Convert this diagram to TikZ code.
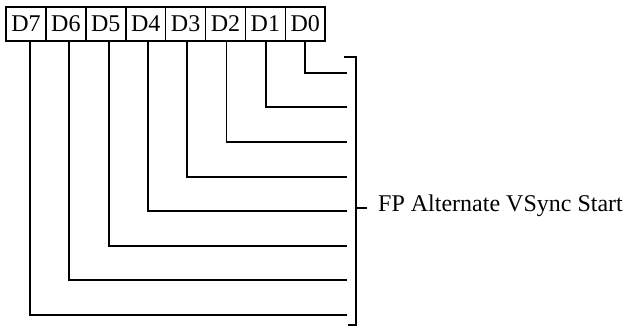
\documentclass[tikz,border=0pt]{standalone}
\usepackage{fontspec}
\setmainfont{Liberation Serif}
\begin{document}
\begin{tikzpicture}[x=1bp,y=-1bp,
  every node/.style={font=\fontsize{24bp}{28bp}\selectfont},
  reg/.style={draw,line width=1.6bp,minimum width=39.9bp,minimum height=34bp,inner sep=0pt},
  wire/.style={line width=1.9bp}]
\useasboundingbox (0,0) rectangle (630,326);
\foreach \i/\n in {0/7,1/6,2/5,3/4,4/3,5/2,6/1,7/0}{
  \node[reg] (d\n) at (26+\i*39.9,24) {D\n};
}
\foreach \i/\n in {0/7,1/6,2/5,3/4,4/3,5/2,6/1,7/0}{
  \pgfmathsetmacro\dx{4-\i*0.6}
  \coordinate (e\n) at (347,315-\i*34.6);
  \draw[wire] ([xshift=\dx bp]d\n.south) |- (e\n);
}
\coordinate (bt) at (344,57);
\coordinate (bb) at (348,325);
\coordinate (bm) at (356,208);
\draw[wire] (bt) -| (bm) |- (bb);
\node[anchor=west,inner sep=0pt] (lab) at (378,206) {FP Alternate VSync Start};
\draw[wire,shorten >=11bp] (bm) -- (lab.west |- bm);
\end{tikzpicture}
\end{document}
